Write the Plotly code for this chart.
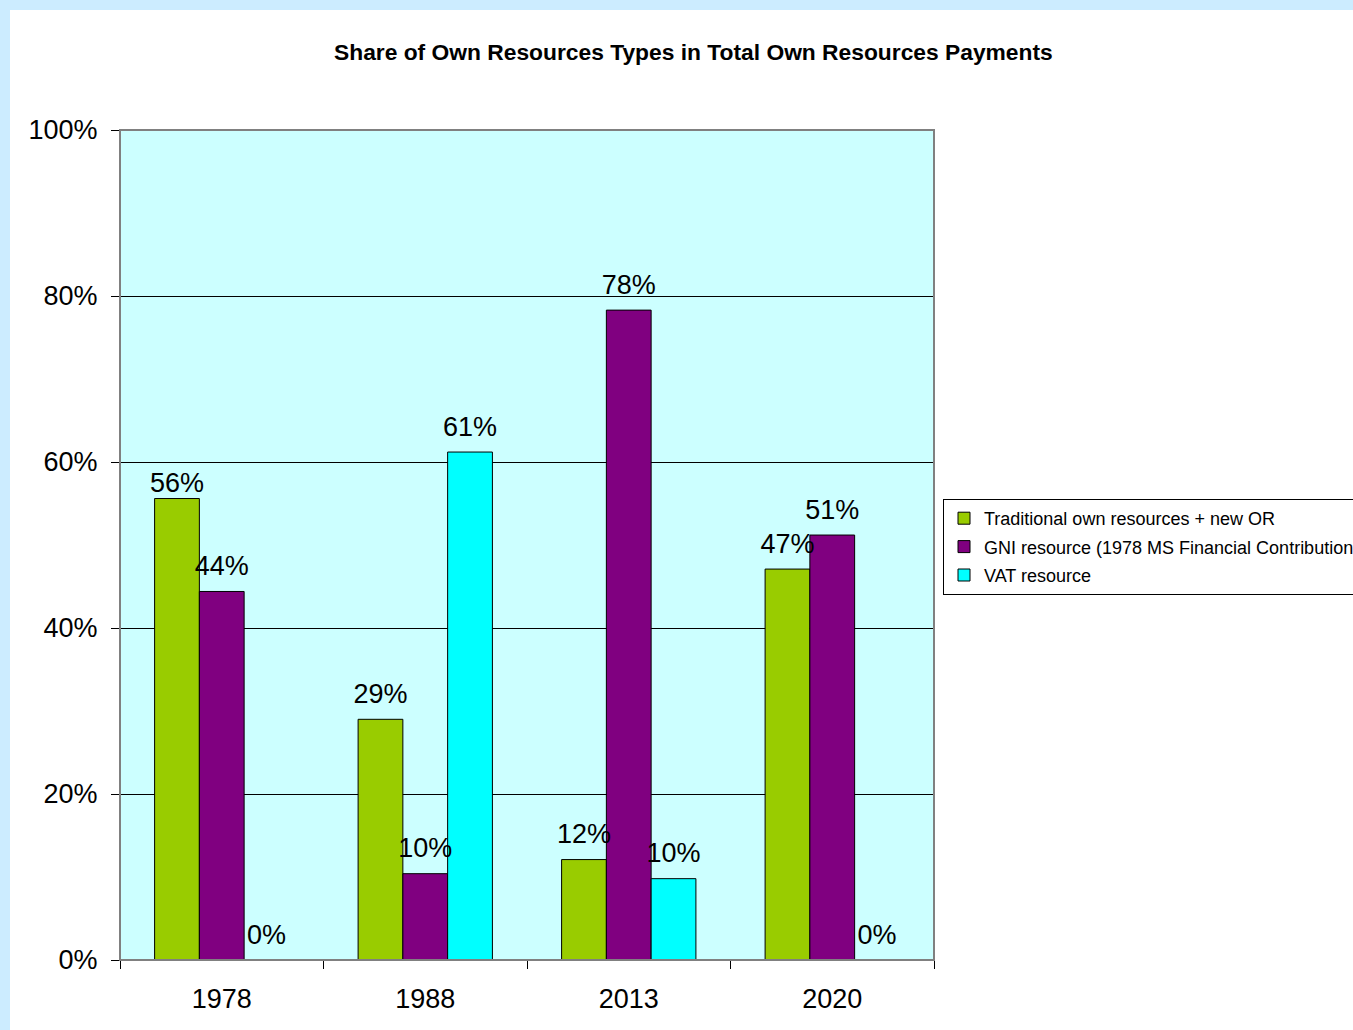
import plotly.graph_objects as go

years = ["1978", "1988", "2013", "2020"]
traditional = [55.6, 29.0, 12.1, 47.1]
gni = [44.4, 10.4, 78.3, 51.2]
vat = [0.0, 61.2, 9.8, 0.0]

names = ["Traditional own resources + new OR",
         "GNI resource (1978 MS Financial Contributions)",
         "VAT resource"]
colors = ["#99CC00", "#800080", "#00FFFF"]
series = [traditional, gni, vat]
# invisible marker sizes controlling the label offset above each bar
label_offsets = [[0, 14, 14, 14], [14, 14, 14, 14], [14, 14, 14, 14]]

FONT = "Liberation Sans, Arial, Helvetica, sans-serif"

fig = go.Figure()
for i, (nm, col, vals) in enumerate(zip(names, colors, series)):
    fig.add_trace(go.Bar(
        x=years, y=vals, name=nm,
        legendgroup=f"g{i}",
        marker=dict(color=col, line=dict(color="black", width=1)),
    ))
# value labels, grouped the same way as the bars
for i, vals in enumerate(series):
    fig.add_trace(go.Scatter(
        x=years, y=vals, mode="markers+text",
        legendgroup=f"g{i}", showlegend=False, hoverinfo="skip",
        marker=dict(size=label_offsets[i], color="rgba(0,0,0,0)",
                    opacity=0, line=dict(width=0, color="rgba(0,0,0,0)")),
        texttemplate="%{y:.0f}%", textposition="top center",
        cliponaxis=False,
        textfont=dict(size=27, color="black", family=FONT),
    ))

W, H = 1353, 1030
L, R, T, B = 120, 419, 130, 70
pw, ph = W - L - R, H - T - B

def px(xp):
    return (xp - L) / pw

def py(yp):
    return (H - B - yp) / ph

fig.update_layout(
    width=W, height=H,
    margin=dict(l=L, r=R, t=T, b=B, pad=0, autoexpand=False),
    paper_bgcolor="white",
    plot_bgcolor="#CCFFFF",
    font=dict(family=FONT, color="black", size=27),
    barmode="group", bargap=0.34, bargroupgap=0,
    scattermode="group", scattergap=0.34,
    showlegend=True,
    legend=dict(
        x=px(943), y=py(499), xanchor="left", yanchor="top",
        bordercolor="black", borderwidth=1, bgcolor="white",
        font=dict(size=18, family=FONT, color="black"),
        traceorder="grouped", tracegroupgap=2,
    ),
    annotations=[dict(
        text="<b>Share of Own Resources Types in Total Own Resources Payments</b>",
        x=px(693), y=py(52), xref="paper", yref="paper",
        xanchor="center", yanchor="middle", showarrow=False,
        font=dict(size=22.8, family=FONT, color="black"),
    )],
    shapes=[
        dict(type="rect", xref="paper", yref="paper",
             x0=px(0), x1=px(W + 5), y0=py(10), y1=py(-5),
             fillcolor="#CCECFF", line=dict(width=0), layer="below"),
        dict(type="rect", xref="paper", yref="paper",
             x0=px(-5), x1=px(10), y0=py(H + 5), y1=py(-5),
             fillcolor="#CCECFF", line=dict(width=0), layer="below"),
        dict(type="rect", xref="paper", yref="paper",
             x0=0, x1=1, y0=0, y1=1,
             line=dict(color="#808080", width=2), layer="above"),
    ],
)

fig.update_xaxes(
    type="category", showgrid=False,
    showline=True, linecolor="black", linewidth=1,
    ticks="outside", tickson="boundaries", ticklen=8, tickcolor="black",
    tickfont=dict(size=27, family=FONT, color="black"),
    ticklabelstandoff=15,
)
fig.update_yaxes(
    range=[0, 100], dtick=20, ticksuffix="%",
    showgrid=True, gridcolor="black", gridwidth=1,
    showline=True, linecolor="black", linewidth=1,
    ticks="outside", ticklen=8, tickcolor="black",
    tickfont=dict(size=27, family=FONT, color="black"),
    ticklabelstandoff=8, zeroline=False,
)

fig.write_html("out.html")
